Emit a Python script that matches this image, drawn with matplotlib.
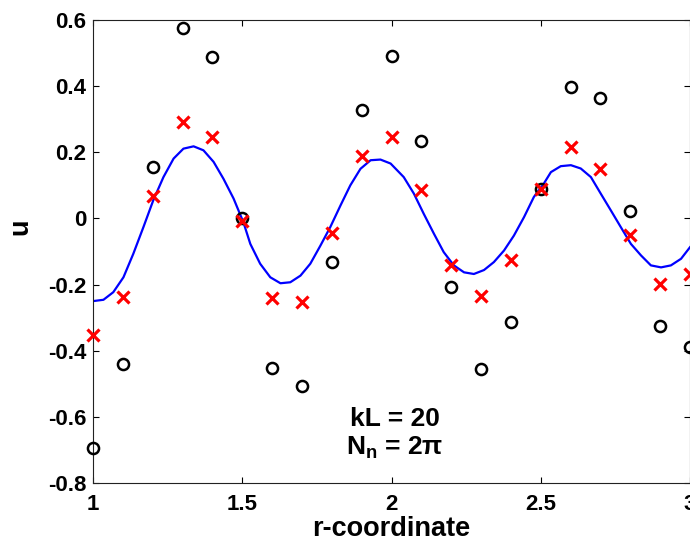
import numpy as np
import matplotlib
matplotlib.use("Agg")
import matplotlib.pyplot as plt

plt.rcParams['font.family'] = ['Liberation Sans', 'DejaVu Sans']
plt.rcParams['mathtext.fontset'] = 'custom'
plt.rcParams['mathtext.rm'] = 'Liberation Sans:bold'
plt.rcParams['mathtext.bf'] = 'Liberation Sans:bold'
plt.rcParams['mathtext.it'] = 'Liberation Sans:bold'

# sample points
r_pts = [1.0, 1.1, 1.2, 1.3, 1.4, 1.5, 1.6, 1.7, 1.8, 1.9, 2.0,
         2.1, 2.2, 2.3, 2.4, 2.5, 2.6, 2.7, 2.8, 2.9, 3.0]
u_circles = [-0.693, -0.44, 0.155, 0.575, 0.487, 0.002, -0.452, -0.506, -0.132, 0.329, 0.492,
             0.233, -0.206, -0.455, -0.314, 0.09, 0.396, 0.363, 0.022, -0.324, -0.388]
u_crosses = [-0.352, -0.238, 0.067, 0.292, 0.246, -0.008, -0.241, -0.254, -0.044, 0.189, 0.246,
             0.087, -0.14, -0.236, -0.125, 0.09, 0.216, 0.15, -0.049, -0.198, -0.168]

# continuous curve
r_line = [1.0, 1.035, 1.068, 1.102, 1.135, 1.169, 1.202, 1.236, 1.27, 1.303, 1.337, 1.37,
          1.404, 1.437, 1.471, 1.504, 1.527, 1.56, 1.594, 1.628, 1.661, 1.695, 1.728,
          1.762, 1.795, 1.829, 1.862, 1.896, 1.93, 1.963, 1.997, 2.041, 2.075, 2.108,
          2.142, 2.175, 2.209, 2.243, 2.276, 2.31, 2.343, 2.377, 2.41, 2.444, 2.477,
          2.508, 2.534, 2.567, 2.601, 2.634, 2.668, 2.701, 2.735, 2.768, 2.802, 2.836,
          2.869, 2.903, 2.936, 2.97, 3.0]
u_line = [-0.25, -0.246, -0.223, -0.178, -0.107, -0.026, 0.055, 0.125, 0.181, 0.211, 0.218, 0.206,
          0.171, 0.12, 0.06, -0.012, -0.077, -0.137, -0.178, -0.196, -0.193, -0.173, -0.137,
          -0.082, -0.026, 0.039, 0.1, 0.15, 0.176, 0.178, 0.166, 0.125, 0.075, 0.014,
          -0.046, -0.102, -0.142, -0.163, -0.168, -0.156, -0.132, -0.097, -0.052, 0.004, 0.065,
          0.102, 0.14, 0.158, 0.161, 0.151, 0.125, 0.075, 0.024, -0.026, -0.077, -0.112,
          -0.142, -0.148, -0.142, -0.122, -0.087]

x_ticks = [1, 1.5, 2, 2.5, 3]
x_ticklabels = ['1', '1.5', '2', '2.5', '3']
y_ticks = [-0.8, -0.6, -0.4, -0.2, 0, 0.2, 0.4, 0.6]
y_ticklabels = ['-0.8', '-0.6', '-0.4', '-0.2', '0', '0.2', '0.4', '0.6']

fig = plt.figure(figsize=(6.9, 5.44), dpi=100)
ax = fig.add_axes([93/690, 1 - 483/544, 597/690, 463/544])

ax.plot(r_line, u_line, color='#0000ff', lw=1.6, zorder=2)
ax.plot(r_pts, u_circles, linestyle='none', marker='o', ms=8, mfc='none',
        mec='black', mew=1.8, clip_on=False, zorder=3)
ax.plot(r_pts, u_crosses, linestyle='none', marker='x', ms=8.5,
        mec='#ff0000', mew=2.3, clip_on=False, zorder=4)

ax.set_xlim(1, 3)
ax.set_ylim(-0.8, 0.6)
ax.set_xticks(x_ticks)
ax.set_xticklabels(x_ticklabels)
ax.set_yticks(y_ticks)
ax.set_yticklabels(y_ticklabels)
ax.tick_params(direction='in', length=4, width=0.8, top=True, right=True,
               labelsize=16, colors='black')
ax.tick_params(axis='x', pad=8)
ax.tick_params(axis='y', pad=5)
for lab in ax.get_xticklabels() + ax.get_yticklabels():
    lab.set_fontweight('bold')
for sp in ax.spines.values():
    sp.set_linewidth(0.8)
    sp.set_color('#222222')

ax.set_xlabel('r-coordinate', fontsize=19.5, fontweight='bold', labelpad=1)
ax.set_ylabel('u', fontsize=19.5, fontweight='bold')
ax.yaxis.set_label_coords(-0.10, 0.553)

ax.text(2.01, -0.606, 'kL = 20', fontsize=19, fontweight='bold', ha='center', va='center')
ax.text(2.01, -0.694, r'N$_{\mathbf{n}}$ = 2π', fontsize=19, fontweight='bold',
        ha='center', va='center')

fig.savefig('out.png', dpi=100)
